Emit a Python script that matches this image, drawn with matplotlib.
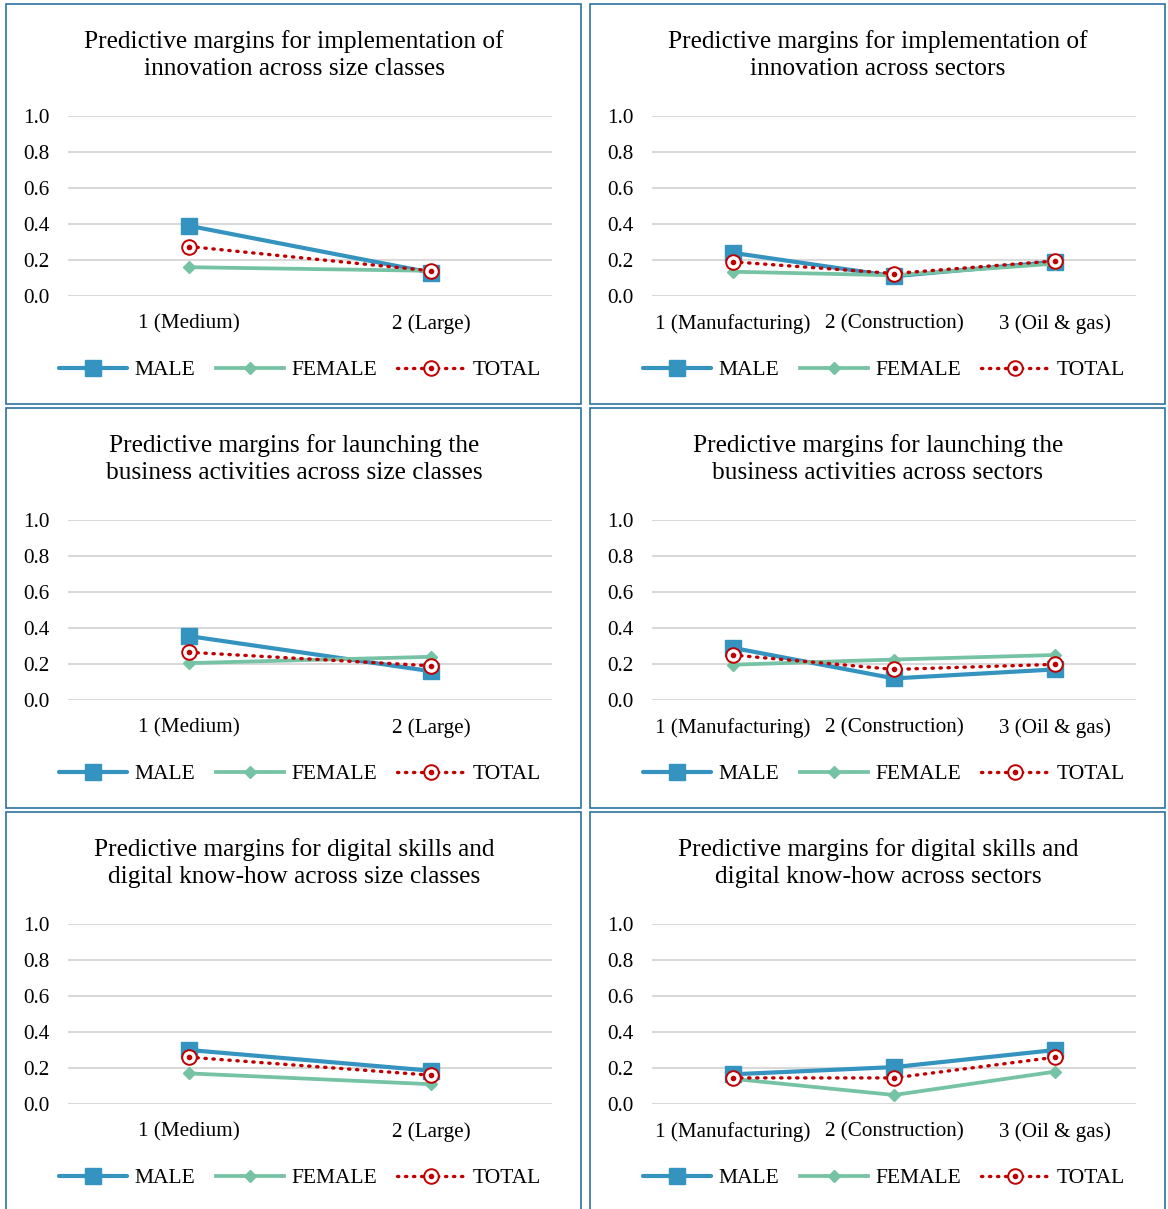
import matplotlib.pyplot as plt
from matplotlib.patches import Rectangle

plt.rcParams['font.family'] = ['Liberation Serif', 'DejaVu Serif']

size_classes = ['1 (Medium)', '2 (Large)']
sectors = ['1 (Manufacturing)', '2 (Construction)', '3 (Oil & gas)']

titles = [
    'Predictive margins for implementation of\ninnovation across size classes',
    'Predictive margins for implementation of\ninnovation across sectors',
    'Predictive margins for launching the\nbusiness activities across size classes',
    'Predictive margins for launching the\nbusiness activities across sectors',
    'Predictive margins for digital skills and\ndigital know-how across size classes',
    'Predictive margins for digital skills and\ndigital know-how across sectors',
]

male = [
    [0.39, 0.13],
    [0.24, 0.11, 0.19],
    [0.355, 0.16],
    [0.29, 0.12, 0.17],
    [0.30, 0.185],
    [0.165, 0.205, 0.30],
]
female = [
    [0.16, 0.14],
    [0.135, 0.115, 0.18],
    [0.205, 0.24],
    [0.196, 0.225, 0.25],
    [0.17, 0.11],
    [0.14, 0.05, 0.18],
]
total = [
    [0.275, 0.14],
    [0.19, 0.125, 0.195],
    [0.265, 0.19],
    [0.25, 0.17, 0.198],
    [0.26, 0.16],
    [0.145, 0.145, 0.26],
]

c_male = '#3593BF'
c_female = '#76C2A4'
c_total = '#C00000'
c_border = '#2B739F'

W, H = 1168, 1209
fig = plt.figure(figsize=(W / 100, H / 100), dpi=100)

col_x = [6, 590]
row_y = [4, 408, 812]
pw, ph = 575, 400

def px_box(x, y, w, h):
    return [x / W, 1 - (y + h) / H, w / W, h / H]

for i in range(6):
    r, c = divmod(i, 2)
    x0, y0 = col_x[c], row_y[r]
    fig.patches.append(Rectangle((x0 / W, 1 - (y0 + ph) / H), pw / W, ph / H,
                                 transform=fig.transFigure, fill=False,
                                 edgecolor=c_border, linewidth=1.2))
    fig.text((x0 + 288) / W, 1 - (y0 + 51) / H, titles[i], ha='center', va='center',
             fontsize=18.3, linespacing=1.32)

    cats = size_classes if c == 0 else sectors
    ax = fig.add_axes(px_box(x0 + 62, y0 + 112, 484, 180))
    x = range(len(cats))
    l1, = ax.plot(x, male[i], color=c_male, lw=3, marker='s', ms=11,
                  solid_capstyle='round', clip_on=False, zorder=3)
    l2, = ax.plot(x, female[i], color=c_female, lw=2.7, marker='D', ms=6.5,
                  clip_on=False, zorder=4)
    l3, = ax.plot(x, total[i], color=c_total, lw=2.4, linestyle=(0, (0.4, 2.0)),
                  dash_capstyle='round', marker='o', ms=10.5, mfc='white',
                  mec=c_total, mew=1.4, clip_on=False, zorder=5)
    l4, = ax.plot(x, total[i], linestyle='none', marker='o', ms=3, color=c_total,
                  clip_on=False, zorder=6)

    ax.set_xlim(-0.5, len(cats) - 0.5)
    ax.set_ylim(0, 1.0)
    ax.set_yticks([0, 0.2, 0.4, 0.6, 0.8, 1.0])
    ax.set_yticklabels(['0.0', '0.2', '0.4', '0.6', '0.8', '1.0'])
    ax.set_xticks(list(x))
    ax.set_xticklabels(cats)
    ax.tick_params(length=0, labelsize=15.2)
    ax.tick_params(axis='y', pad=13.5)
    ax.tick_params(axis='x', pad=23.5)
    for lab in ax.get_xticklabels():
        lab.set_va('baseline')
    ax.grid(axis='y', color='#D9D9D9', lw=1.5)
    ax.set_axisbelow(True)
    for s in ax.spines.values():
        s.set_visible(False)

    fig.legend([l1, l2, (l3, l4)], ['MALE', 'FEMALE', 'TOTAL'],
               loc='center', bbox_to_anchor=((x0 + 294) / W, 1 - (y0 + 366) / H),
               ncol=3, frameon=False, fontsize=15.5, handlelength=3.15,
               handletextpad=0.35, columnspacing=0.95, numpoints=1)

fig.savefig('out.png', dpi=100)
